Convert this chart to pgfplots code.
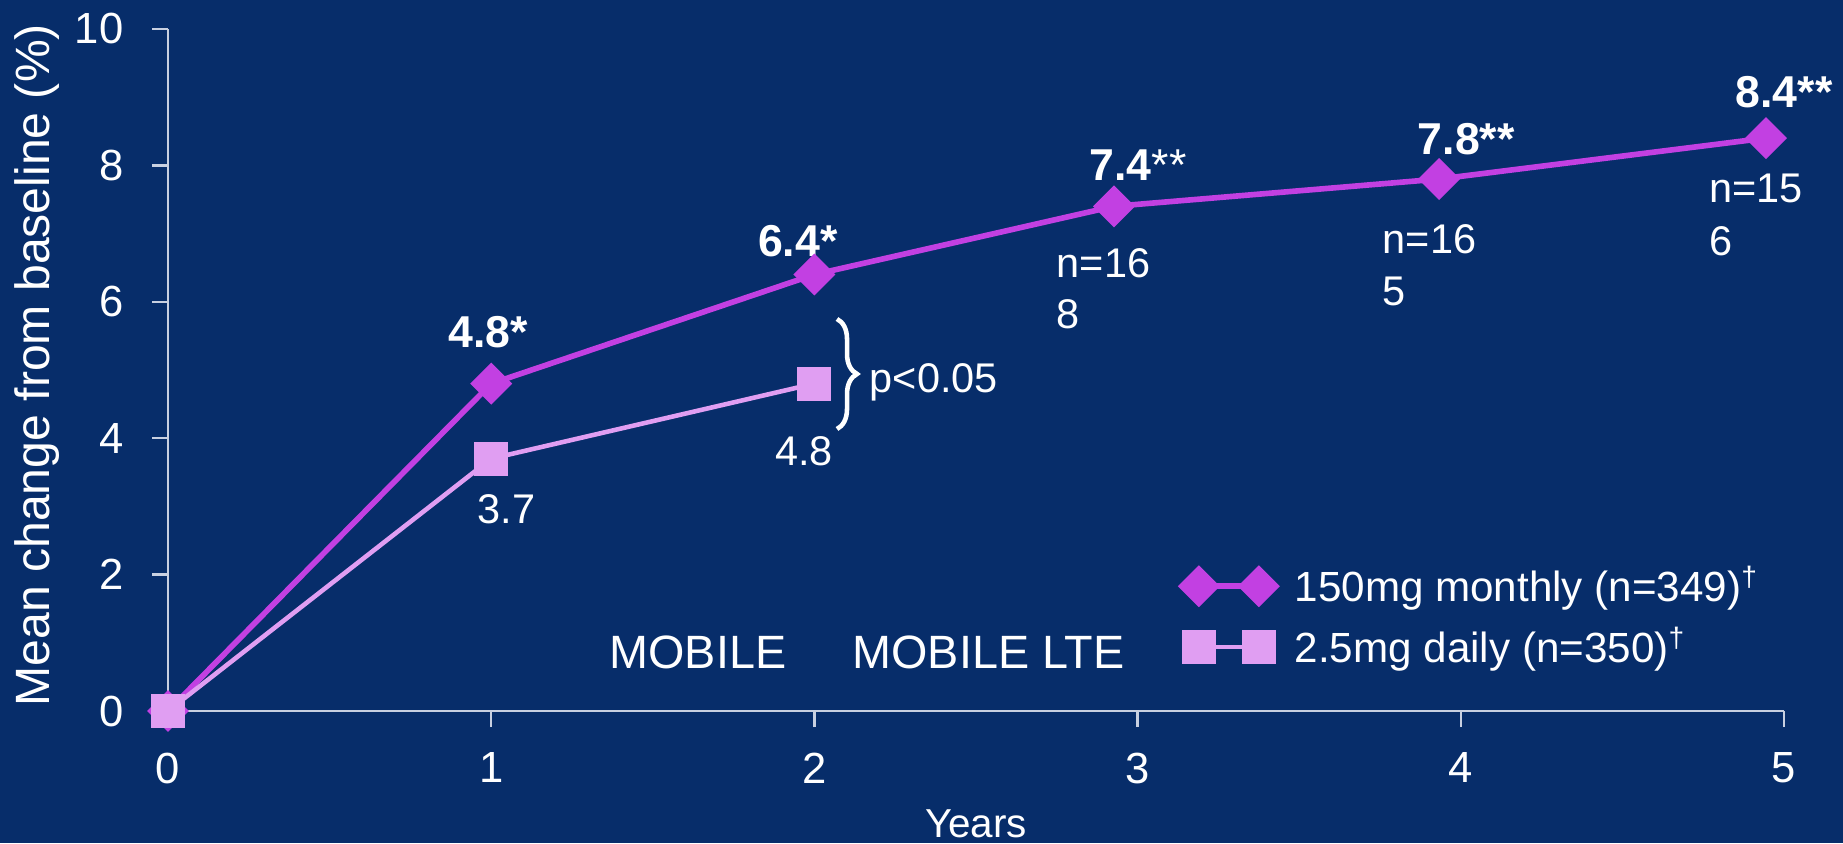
\documentclass[border=0pt]{standalone}
\usepackage{fontspec}
\setmainfont{Liberation Sans}
\usepackage{pgfplots}
\pgfplotsset{compat=1.18}
\usetikzlibrary{decorations.pathreplacing}

\definecolor{bgnavy}{RGB}{7,45,106}
\definecolor{monthly}{RGB}{194,64,226}
\definecolor{daily}{RGB}{224,158,242}
\definecolor{axisgrey}{RGB}{200,208,225}

\tikzset{
  valb/.style={font=\fontsize{12.7}{14}\selectfont\bfseries, text=white, inner sep=0pt, anchor=base west},
  val/.style={font=\fontsize{11.8}{14}\selectfont, text=white, inner sep=0pt, anchor=base west},
  study/.style={font=\fontsize{13.3}{15}\selectfont, text=white, inner sep=0pt, anchor=base west},
}

\begin{document}
\begin{tikzpicture}
\fill[bgnavy, use as bounding box] (0,0) rectangle (18.43cm,8.43cm);
\begin{axis}[
  at={(1.68cm,1.32cm)}, anchor=south west,
  scale only axis, width=16.16cm, height=6.82cm,
  xmin=0, xmax=5, ymin=0, ymax=10,
  axis x line*=bottom, axis y line*=left,
  axis line style={axisgrey, line width=0.7pt, -},
  xtick={0,...,5}, ytick={0,2,...,10},
  tick align=outside, major tick length=1.6mm,
  tick style={axisgrey, line width=0.7pt},
  /pgf/number format/assume math mode=true,
  ticklabel style={font=\fontsize{12.4}{14}\selectfont, text=white, inner sep=0pt},
  xticklabel style={yshift=-2.5mm},
  yticklabel style={xshift=-2.8mm},
  xlabel={Years},
  ylabel={Mean change from baseline (\%)},
  label style={text=white, inner sep=0pt},
  xlabel style={font=\fontsize{11.5}{13}\selectfont, at={(axis description cs:0.5,-0.1848)}, anchor=base},
  ylabel style={font=\fontsize{13.7}{15}\selectfont, at={(axis description cs:-0.0736,0.507)}, anchor=base},
  clip=false,
  legend style={at={(0.6269,0.214)}, anchor=north west, draw=none, fill=none,
    text=white, font=\fontsize{12}{14}\selectfont, inner sep=0pt,
    row sep=2mm, column sep=1.9mm, nodes={inner sep=0pt}},
  legend cell align=left,
  legend image code/.code={\draw[#1] plot coordinates {(0cm,0cm) (0.6cm,0cm)};},
]

% 150 mg monthly
\addplot[monthly, line width=1.6pt, mark=square*, mark size=3.42pt,
  mark options={rotate=45, fill=monthly, draw=none}]
  coordinates {(0,0) (1,4.8) (2,6.4) (2.927,7.4) (3.933,7.8) (4.944,8.4)};
\addlegendentry{150mg monthly (n=349)\textsuperscript{†}}

% 2.5 mg daily
\addplot[daily, line width=1.3pt, mark=square*, mark size=4.2pt,
  mark options={fill=daily, draw=none}]
  coordinates {(0,0) (1,3.7) (2,4.8)};
\addlegendentry{2.5mg daily (n=350)\textsuperscript{†}}

% values of the monthly arm
\node[valb, xshift=-4.35mm, yshift=3.66mm] at (axis cs:1,4.8) {4.8*};
\node[valb, xshift=-5.7mm, yshift=1.85mm] at (axis cs:2,6.4) {6.4*};
\node[valb, xshift=-2.5mm, yshift=2.63mm] at (axis cs:2.927,7.4) {7.4{\mdseries**}};
\node[valb, xshift=-2.2mm, yshift=2.5mm] at (axis cs:3.933,7.8) {7.8**};
\node[valb, xshift=-3.1mm, yshift=3.1mm] at (axis cs:4.944,8.4) {8.4**};

% values of the daily arm
\node[val, xshift=-1.4mm, yshift=-6.53mm] at (axis cs:1,3.7) {3.7};
\node[val, xshift=-4.0mm, yshift=-8.14mm] at (axis cs:2,4.8) {4.8};

% patient numbers in the extension
\node[val, xshift=-5.8mm, yshift=-7.07mm] at (axis cs:2.927,7.4) {n=16};
\node[val, xshift=-5.8mm, yshift=-12.17mm] at (axis cs:2.927,7.4) {8};
\node[val, xshift=-5.7mm, yshift=-7.4mm] at (axis cs:3.933,7.8) {n=16};
\node[val, xshift=-5.7mm, yshift=-12.6mm] at (axis cs:3.933,7.8) {5};
\node[val, xshift=-5.7mm, yshift=-6.39mm] at (axis cs:4.944,8.4) {n=15};
\node[val, xshift=-5.7mm, yshift=-11.69mm] at (axis cs:4.944,8.4) {6};

% significance at year 2
\draw[white, line width=1.3pt, decorate, decoration={brace, amplitude=2mm}]
  (axis cs:2.07,5.748) -- (axis cs:2.07,4.135);
\node[val] at (axis cs:2.169,4.663) {p<0.05};

% study phases
\node[study] at (axis cs:1.364,0.616) {MOBILE};
\node[study] at (axis cs:2.116,0.616) {MOBILE LTE};

\end{axis}
\end{tikzpicture}
\end{document}
